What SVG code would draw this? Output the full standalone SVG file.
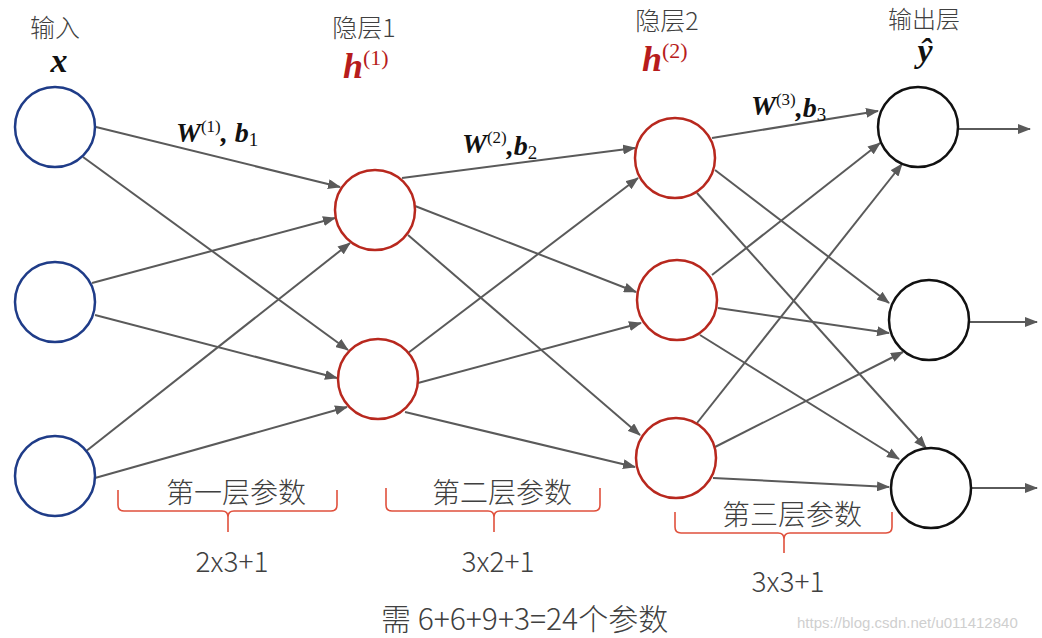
<svg xmlns="http://www.w3.org/2000/svg" width="1042" height="638" viewBox="0 0 1042 638">
<defs>
<marker id="ah" markerUnits="userSpaceOnUse" markerWidth="13" markerHeight="10" refX="12" refY="5" orient="auto">
<path d="M0,0 L13,5 L0,10 z" fill="#5a5a5a"/>
</marker>
<style>
.lbl{font-family:"Noto Sans CJK SC","Noto Sans",sans-serif;font-weight:300;fill:#404040}
.math{font-family:"Liberation Serif",serif;font-weight:bold;font-style:italic;fill:#111}
.red{fill:#b71c1c}
.sup{font-family:"Liberation Serif",serif;font-weight:normal;font-style:normal}
.edge{stroke:#5a5a5a;stroke-width:2;fill:none;marker-end:url(#ah)}
.in{fill:#fff;stroke:#1f3c88;stroke-width:2.5}
.hid{fill:#fff;stroke:#b8281e;stroke-width:2.5}
.out{fill:#fff;stroke:#111;stroke-width:2.5}
.brace{fill:none;stroke:#e0503c;stroke-width:1.6}
</style>
</defs>
<rect width="1042" height="638" fill="#fff"/>

<g id="connectors">
<line class="edge" x1="96" y1="127" x2="340" y2="187"/>
<line class="edge" x1="83" y1="157" x2="348" y2="350"/>
<line class="edge" x1="92" y1="283" x2="335" y2="218"/>
<line class="edge" x1="95" y1="315" x2="337" y2="378"/>
<line class="edge" x1="85" y1="452" x2="350" y2="243"/>
<line class="edge" x1="95" y1="478" x2="347" y2="407"/>

<line class="edge" x1="402" y1="178" x2="635" y2="148"/>
<line class="edge" x1="415" y1="206" x2="636" y2="292"/>
<line class="edge" x1="408" y1="235" x2="640" y2="435"/>
<line class="edge" x1="408" y1="353" x2="638" y2="178"/>
<line class="edge" x1="418" y1="383" x2="641" y2="323"/>
<line class="edge" x1="405" y1="412" x2="635" y2="467"/>

<line class="edge" x1="712" y1="138" x2="878" y2="111"/>
<line class="edge" x1="715" y1="170" x2="889" y2="303"/>
<line class="edge" x1="697" y1="193" x2="926" y2="448"/>
<line class="edge" x1="712" y1="275" x2="880" y2="143"/>
<line class="edge" x1="718" y1="308" x2="889" y2="333"/>
<line class="edge" x1="700" y1="335" x2="899" y2="459"/>
<line class="edge" x1="697" y1="423" x2="902" y2="164"/>
<line class="edge" x1="715" y1="447" x2="903" y2="352"/>
<line class="edge" x1="713" y1="478" x2="889" y2="487"/>

<line class="edge" x1="958" y1="129" x2="1030" y2="129"/>
<line class="edge" x1="970" y1="322" x2="1037" y2="322"/>
<line class="edge" x1="972" y1="488" x2="1037" y2="488"/>
</g>

<g id="input-x1"><circle class="in" cx="55" cy="127" r="40"/></g>
<g id="input-x2"><circle class="in" cx="55" cy="302" r="40"/></g>
<g id="input-x3"><circle class="in" cx="55" cy="476" r="40"/></g>
<g id="h1-1"><circle class="hid" cx="375" cy="210" r="40"/></g>
<g id="h1-2"><circle class="hid" cx="378" cy="379" r="40"/></g>
<g id="h2-1"><circle class="hid" cx="675" cy="158" r="40"/></g>
<g id="h2-2"><circle class="hid" cx="677" cy="300" r="40"/></g>
<g id="h2-3"><circle class="hid" cx="676" cy="458" r="40"/></g>
<g id="out-1"><circle class="out" cx="918" cy="127" r="40"/></g>
<g id="out-2"><circle class="out" cx="929" cy="320" r="40"/></g>
<g id="out-3"><circle class="out" cx="931" cy="488" r="40"/></g>

<g id="layer-labels">
<text class="lbl" x="55" y="37" font-size="25" text-anchor="middle">输入</text>
<text class="math" x="59" y="72" font-size="34" text-anchor="middle">x</text>
<text class="lbl" x="364" y="37" font-size="25" text-anchor="middle">隐层1</text>
<text class="math red" x="343" y="78" font-size="36">h<tspan class="sup" font-size="22" dy="-13">(1)</tspan></text>
<text class="lbl" x="667" y="30" font-size="25" text-anchor="middle">隐层2</text>
<text class="math red" x="642" y="71" font-size="36">h<tspan class="sup" font-size="22" dy="-13">(2)</tspan></text>
<text class="lbl" x="924" y="28" font-size="24" text-anchor="middle">输出层</text>
<text class="math" x="925" y="62" font-size="34" text-anchor="middle">ŷ</text>
</g>

<g id="weight-labels">
<text class="math" x="176" y="142" font-size="28">W<tspan class="sup" font-size="17" dy="-10">(1)</tspan><tspan dy="10">, b</tspan><tspan class="sup" font-size="19" dy="4">1</tspan></text>
<text class="math" x="462" y="153" font-size="28">W<tspan class="sup" font-size="17" dy="-10">(2)</tspan><tspan dy="12">,b</tspan><tspan class="sup" font-size="19" dy="4">2</tspan></text>
<text class="math" x="751" y="115" font-size="28">W<tspan class="sup" font-size="17" dy="-10">(3)</tspan><tspan dy="12">,b</tspan><tspan class="sup" font-size="19" dy="4">3</tspan></text>
</g>

<g id="param-braces">
<path class="brace" d="M118,490 L118,505 Q118,511 124,511 L222,511 Q228,511 228,517 L228,532 M228,517 Q228,511 234,511 L331,511 Q337,511 337,505 L337,490"/>
<path class="brace" d="M386,488 L386,505 Q386,511 392,511 L488,511 Q494,511 494,517 L494,532 M494,517 Q494,511 500,511 L594,511 Q600,511 600,505 L600,488"/>
<path class="brace" d="M675,512 L675,527 Q675,533 681,533 L778,533 Q784,533 784,539 L784,553 M784,539 Q784,533 790,533 L886,533 Q892,533 892,527 L892,512"/>
<text class="lbl" x="236" y="503" font-size="28" text-anchor="middle">第一层参数</text>
<text class="lbl" x="502" y="503" font-size="28" text-anchor="middle">第二层参数</text>
<text class="lbl" x="792" y="525" font-size="28" text-anchor="middle">第三层参数</text>
<text class="lbl" x="232" y="572" font-size="28" text-anchor="middle">2x3+1</text>
<text class="lbl" x="498" y="572" font-size="28" text-anchor="middle">3x2+1</text>
<text class="lbl" x="788" y="592" font-size="28" text-anchor="middle">3x3+1</text>
</g>

<g id="footer">
<text class="lbl" x="381" y="630" font-size="30">需 6+6+9+3=24个参数</text>
<text x="797" y="628" font-family="Liberation Sans, sans-serif" font-size="15" fill="#cfcfcf">https://blog.csdn.net/u011412840</text>
</g>
</svg>
